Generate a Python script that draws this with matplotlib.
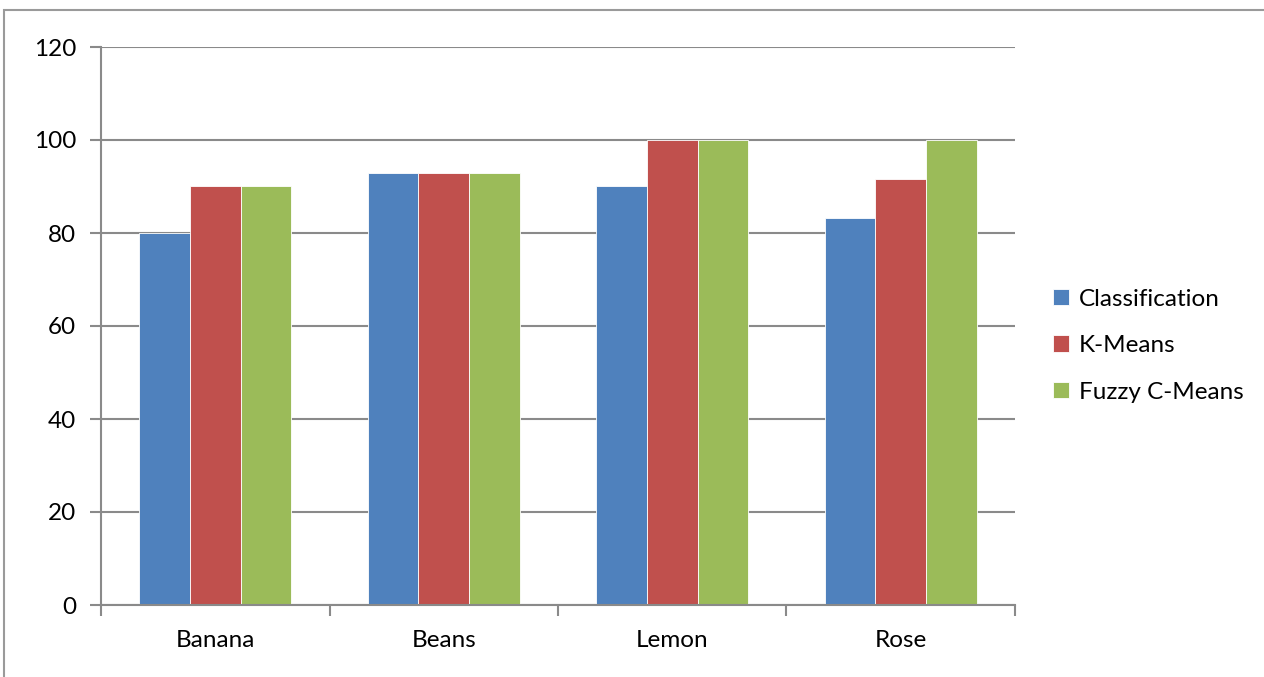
import numpy as np
from matplotlib import pyplot as plt
from matplotlib.patches import Rectangle

plt.rcParams['font.family'] = ['Lato', 'DejaVu Sans']

categories = ['Banana', 'Beans', 'Lemon', 'Rose']
series_names = ['Classification', 'K-Means', 'Fuzzy C-Means']
classification = [80, 92.86, 90, 83.33]
k_means = [90, 92.86, 100, 91.67]
fuzzy_c_means = [90, 92.86, 100, 100]
y_ticks = [0, 20, 40, 60, 80, 100, 120]

colors = ['#4F81BD', '#C0504D', '#9BBB59']
grid_gray = '#8A8A8A'

fig = plt.figure(figsize=(12.64, 6.77), dpi=100)
W, H = 1264, 677

# outer chart border (runs off the right and bottom edges)
fig.patches.append(Rectangle((4 / W, -0.1), 1.2, (H - 10) / H + 0.1,
                             transform=fig.transFigure, fill=False,
                             edgecolor='#9A9A9A', lw=1.5))

ax = fig.add_axes([101 / W, (H - 605) / H, 914 / W, 558 / H])

x = np.arange(len(categories))
bar_w = 0.222
for i, (vals, name) in enumerate(zip([classification, k_means, fuzzy_c_means], series_names)):
    ax.bar(x + (i - 1) * bar_w, vals, width=bar_w, color=colors[i],
           edgecolor='white', linewidth=0.6, label=name, zorder=3)

ax.set_xlim(-0.5, len(categories) - 0.5)
ax.set_ylim(0, 120)
ax.set_yticks(y_ticks)
ax.set_xticks(x)
ax.set_xticklabels(categories)
ax.set_xticks(np.arange(len(categories) + 1) - 0.5, minor=True)

ax.grid(axis='y', color=grid_gray, lw=1.5, zorder=0)
for s in ['top', 'right']:
    ax.spines[s].set_visible(False)
for s in ['left', 'bottom']:
    ax.spines[s].set_color(grid_gray)
    ax.spines[s].set_linewidth(1.5)
    ax.spines[s].set_zorder(4)

ax.tick_params(axis='y', length=8, width=1.5, color=grid_gray, labelsize=17.5, pad=10)
ax.tick_params(axis='x', which='major', length=0, labelsize=17.5, pad=18)
ax.tick_params(axis='x', which='minor', length=8, width=1.5, color=grid_gray)

ax.legend(loc='center left', bbox_to_anchor=(1.018, 0.465), frameon=False,
          fontsize=17.5, handlelength=0.65, handleheight=0.65, handletextpad=0.4,
          labelspacing=1.05)

fig.savefig('out.png', dpi=100)
